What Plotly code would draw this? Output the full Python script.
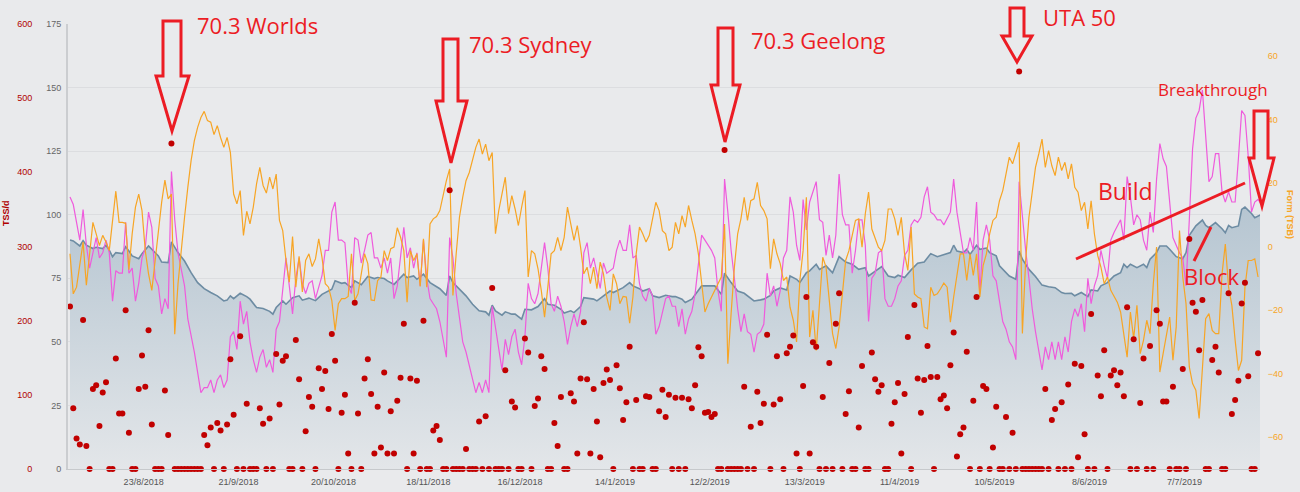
import datetime as dt
import plotly.graph_objects as go

W, H = 1300, 492
START = dt.datetime(2018, 7, 31, 12)

TICK_DATES = ["2018-08-23", "2018-09-21", "2018-10-20", "2018-11-18", "2018-12-16", "2019-01-14",
              "2019-02-12", "2019-03-13", "2019-04-11", "2019-05-10", "2019-06-08", "2019-07-07"]
TICK_TEXT = ["23/8/2018", "21/9/2018", "20/10/2018", "18/11/2018", "16/12/2018", "14/1/2019",
             "12/2/2019", "13/3/2019", "11/4/2019", "10/5/2019", "8/6/2019", "7/7/2019"]

# Daily TSS (one value per day from START)
TSS = [
    219, 82, 41, 33, 201, 31, 0, 108, 113, 58,
    103, 117, 0, 0, 149, 75, 75, 214, 49, 0,
    0, 108, 153, 111, 187, 60, 0, 0, 0, 106,
    46, 439, 0, 0, 0, 0, 0, 0, 0, 0,
    0, 46, 32, 56, 0, 62, 52, 0, 60, 148,
    73, 0, 179, 0, 88, 0, 0, 0, 82, 61,
    0, 68, 0, 155, 87, 146, 152, 0, 0, 174,
    121, 0, 51, 97, 84, 0, 136, 108, 132, 81,
    182, 146, 0, 76, 100, 21, 0, 224, 75, 0,
    122, 148, 101, 21, 84, 29, 130, 21, 78, 21,
    92, 123, 196, 0, 122, 21, 119, 0, 200, 0,
    0, 52, 58, 39, 0, 0, 376, 0, 0, 0,
    0, 27, 0, 0, 0, 64, 0, 71, 0, 244,
    0, 0, 0, 133, 0, 91, 83, 0, 0, 176,
    157, 0, 85, 95, 152, 135, 0, 0, 62, 31,
    97, 0, 0, 102, 91, 21, 122, 198, 121, 21,
    108, 64, 16, 116, 134, 120, 0, 140, 109, 66,
    90, 165, 0, 93, 0, 0, 98, 97, 0, 0,
    78, 107, 70, 100, 0, 96, 0, 96, 0, 94,
    82, 113, 164, 152, 76, 77, 70, 74, 0, 0,
    430, 0, 0, 0, 0, 0, 111, 0, 57, 0,
    104, 62, 88, 181, 0, 87, 152, 94, 0, 156,
    165, 180, 21, 0, 112, 232, 21, 171, 165, 0,
    97, 0, 143, 0, 196, 237, 0, 74, 105, 0,
    0, 56, 139, 0, 0, 157, 121, 104, 113, 0,
    0, 61, 90, 116, 21, 101, 178, 0, 221, 122,
    76, 120, 166, 124, 0, 124, 94, 99, 82, 140,
    184, 17, 47, 56, 158, 0, 92, 232, 0, 112,
    108, 0, 29, 84, 0, 0, 70, 0, 49, 0,
    536, 0, 0, 0, 0, 0, 0, 0, 108, 0,
    66, 81, 0, 90, 0, 114, 0, 142, 16, 139,
    47, 0, 209, 0, 126, 98, 160, 0, 126, 133,
    113, 130, 98, 218, 0, 175, 0, 89, 149, 0,
    166, 0, 214, 196, 91, 91, 0, 111, 0, 0,
    135, 0, 310, 224, 212, 160, 228, 0, 0, 147,
    165, 130, 0, 0, 237, 74, 93, 119, 223, 251,
    125, 0, 0, 156, 120,
]

# Daily Form (TSB)
TSB = [
    -2.3, -14.9, -12.8, -6.0, 1.4, -12.2, -2.3, 7.6, 4.0, 0.3,
    3.5, 1.4, -1.3, 9.2, 17.4, 7.6, 7.6, 7.3, -7.3, 4.0,
    12.4, 16.5, 11.3, -1.3, -8.6, -13.8, -4.4, 6.1, 13.9, 20.9,
    15.0, 16.5, -27.6, -11.7, -0.2, 9.2, 18.6, 27.0, 33.3, 37.5,
    40.6, 42.5, 39.6, 39.1, 35.2, 38.0, 34.3, 31.2, 34.3, 29.6,
    16.5, 13.4, 17.6, 3.5, 11.1, 7.1, 12.4, 19.7, 24.9, 19.2,
    16.8, 21.8, 18.1, 22.8, 8.2, 5.0, -4.4, -11.2, 3.1, -12.8,
    -3.1, -14.3, -4.4, -2.3, -6.3, -3.9, 2.4, -3.4, -11.7, -12.8,
    -17.0, -26.4, -18.0, -16.4, -16.4, -15.7, -2.3, -17.0, -14.9, -8.4,
    -2.3, -5.4, -16.8,
    -17.0, -10.7, -9.6, -1.3, -4.4, -0.7, -0.2,
    5.9, 2.9, -1.3, -17.5, -1.3, -4.4, -2.3, -12.6, 2.4, -12.8,
    7.1, 8.7, 9.4, 11.3, 16.5, 20.7, 24.4, -15.4, -2.3, 9.2,
    15.5, 20.7, 23.3, 27.0, 31.2, 33.8, 29.1, 32.2, 27.0, 29.6,
    4.0, 11.3, 16.5, 21.8, 10.3, 16.0, 11.8, 6.6, 12.4, 17.6,
    -9.6, -1.3, -2.3, -7.0, -13.8, -22.2, -12.8, -2.3, -1.3, 2.9,
    -1.3, 2.9, 12.4, 7.1, 1.9, 6.6, -0.2, -8.6, -6.5, -11.7,
    -6.5, -13.3, -4.9, -8.6, -15.9, -20.1, -8.6, -11.7, -18.0, -15.7,
    -15.9, -24.1, -15.9, -2.3, 6.1, 4.0, 1.4, 3.5, 8.2, 13.9,
    11.3, 5.0, 4.0, -1.3,
    -0.2, 7.6, 4.0, 9.7, 6.1, 12.9, 8.2, 4.0, -2.3, -11.7,
    -20.6, -18.0, -15.9, -13.8, -12.2, -9.6, 7.1, -36.9, -21.1, -6.5,
    4.0, 8.7, 15.5, 8.2, 14.4, 15.0, 20.2, 12.9, 11.3, 8.7,
    -7.0, 2.4, -2.3, -5.4, -10.7, -9.6, -19.1, -23.2, -30.0, -10.7,
    -1.3, 15.5, -28.5, -20.1, -32.7, -18.0, -3.4, -6.5, -18.0, -27.4,
    -32.1, -25.3, -14.9, -4.4, -1.3, 3.5, 8.2, 8.7, -0.2, 10.3,
    17.1, 5.5, 2.9, -0.2, -1.3, 1.9, 11.8, 11.8, 8.7, 3.5,
    9.2, -2.3, -7.5, 6.1, -14.9, -15.9, -16.4, -25.3, -25.9, -12.8,
    -15.4, -14.9, -13.3, -11.5, -12.8, -23.8, -15.9, -8.6, -2.3,
    -2.3, -10.7, -2.3, -9.1, -2.3, -15.9, -6.0, -2.3, 4.0, 8.2,
    9.2, 14.4, 17.6, 23.3, 28.1, 26.0, 29.6, 32.8, -27.4, -4.4,
    9.2, 17.6, 24.9, 29.1, 33.8, 24.9, 30.2, 25.4, 22.3, 28.1,
    23.9, 26.5, 21.3, 26.0, 18.6, 17.1, 11.3, 13.9, 5.5, 14.4,
    4.0, -2.8, -6.5, -11.7, -9.6, -13.8, -15.9, -17.5, -20.6, -28.5,
    -34.8, -20.6, -29.0, -18.5, -33.7, -29.5, -23.2, -27.4, -11.7, -0.2,
    -39.5, -33.7, -27.4, -22.2, -35.8, -25.3, 5.0, -9.6, -18.0, -37.9,
    -43.1, -45.2, -54.1, -39.0, -22.7, -21.1, -26.4, -27.4, -27.4, -8.6,
    0.8, -12.8, -18.5, -29.5, -39.0, -35.8, -12.8, -4.4, -4.4, -3.9, -9.6,
]

# Fitness (CTL): (day, value)
CTL_PTS = [
    (0, 90.1), (1, 89.7), (3, 87.7), (4, 89.8), (5, 88.0), (7, 86.7), (8, 87.2), (10, 86.7), (11, 88.0),
    (12, 86.1), (13, 83.5), (14, 85.1), (16, 84.7), (17, 87.4), (18, 85.7), (19, 83.8), (21, 82.7),
    (22, 84.7), (24, 87.7), (25, 86.4), (27, 83.8), (28, 81.4), (30, 81.2), (31, 89.3), (33, 85.1),
    (35, 81.8), (37, 77.2), (39, 73.3), (41, 70.9), (43, 69.4), (45, 68.1), (47, 66.1), (48, 66.4),
    (49, 68.1), (50, 67.0), (52, 69.1), (54, 67.8), (55, 66.8), (57, 63.5), (59, 63.1), (61, 62.0),
    (62, 60.9), (63, 63.5), (65, 66.1), (66, 64.8), (68, 67.4), (70, 68.1), (71, 66.4), (73, 67.2),
    (75, 66.2), (77, 68.7), (80, 70.7), (81, 74.0), (83, 73.0), (84, 73.3), (86, 71.3), (87, 74.0),
    (89, 72.5), (91, 75.7), (93, 74.9), (94, 75.3), (96, 74.9), (97, 74.0), (99, 72.6), (100, 74.0),
    (102, 76.6), (103, 75.3), (105, 75.9), (106, 74.6), (108, 76.6), (110, 73.3), (111, 72.6),
    (113, 70.9), (115, 68.3), (116, 75.9), (117, 73.3), (119, 70.7), (121, 68.1), (123, 64.8),
    (125, 62.2), (127, 61.8), (128, 60.5), (129, 64.4), (130, 62.2), (132, 60.5), (133, 61.8),
    (135, 60.9), (136, 60.9), (138, 58.9), (139, 62.8), (141, 62.6), (143, 63.9), (145, 67.0),
    (146, 64.8), (148, 64.4), (150, 62.8), (151, 61.3), (153, 62.2), (154, 61.5), (156, 63.9),
    (157, 67.4), (160, 66.8), (161, 66.1), (163, 68.1), (165, 70.0), (166, 69.4), (168, 70.7),
    (169, 71.3), (171, 73.3), (172, 72.0), (174, 70.9), (175, 70.0), (177, 70.9), (178, 68.1),
    (180, 67.4), (182, 68.3), (184, 67.8), (185, 67.8), (187, 66.8), (188, 65.5), (190, 66.8),
    (191, 68.7), (193, 72.0), (195, 72.0), (197, 72.0), (199, 68.7), (200, 77.0), (202, 73.3),
    (204, 70.0), (206, 69.1), (207, 68.1), (209, 66.1), (211, 66.5), (212, 66.8), (214, 68.3),
    (215, 70.0), (217, 71.2), (219, 70.4), (220, 75.9), (222, 74.6), (223, 73.3), (225, 77.2),
    (226, 77.9), (228, 80.5), (229, 78.5), (231, 79.9), (233, 77.2), (235, 83.5), (237, 81.4),
    (239, 80.5), (241, 78.5), (243, 79.2), (244, 75.9), (246, 77.9), (248, 79.6), (250, 75.9),
    (252, 75.3), (253, 76.2), (255, 75.3), (257, 78.3), (259, 80.9), (261, 81.4), (263, 84.7),
    (265, 83.5), (267, 84.4), (269, 85.1), (270, 88.0), (271, 85.7), (273, 85.1), (274, 86.4),
    (275, 84.4), (277, 88.0), (278, 86.4), (280, 86.9), (281, 85.1), (283, 83.8), (284, 79.9),
    (286, 77.5), (287, 75.9), (289, 74.6), (290, 85.7), (291, 82.5), (293, 78.5), (295, 75.7),
    (297, 72.3), (299, 71.7), (301, 71.3), (303, 69.4), (304, 69.0), (306, 69.1), (307, 68.1),
    (309, 69.4), (311, 67.8), (312, 70.4), (314, 70.0), (315, 72.0), (317, 73.3), (319, 75.9),
    (321, 77.2), (322, 80.5), (323, 79.2), (324, 80.5), (326, 79.2), (328, 80.5), (329, 79.2),
    (330, 82.5), (332, 85.1), (333, 87.7), (335, 87.7), (336, 86.4), (338, 83.5), (340, 82.7),
    (341, 85.1), (342, 91.9), (344, 95.6), (346, 97.9), (347, 95.8), (348, 94.9), (350, 96.9),
    (352, 94.5), (353, 92.9), (354, 95.8), (355, 94.9), (357, 95.6), (358, 102.1), (359, 103.0),
    (361, 100.5), (362, 98.8), (363, 99.5), (364, 100.1),
]

# Fatigue (ATL): (day, value)
ATL_PTS = [
    (0, 107), (1, 104), (3, 90), (4, 102), (5, 88), (6, 79), (7, 85), (8, 91), (9, 83), (10, 85), (11, 90),
    (12, 85), (13, 66), (14, 78), (15, 77), (16, 77), (17, 97), (18, 77), (19, 79), (20, 66), (21, 73),
    (22, 83), (23, 87), (24, 101), (25, 95), (26, 75), (27, 72), (28, 61), (29, 67), (30, 63), (31, 117),
    (32, 98), (33, 85), (35, 72), (36, 59), (38, 46), (40, 30), (41, 32), (42, 32), (43, 35), (44, 30),
    (45, 35), (46, 37), (47, 32), (48, 35), (49, 52), (50, 54), (51, 47), (52, 66), (53, 57), (54, 62),
    (55, 50), (56, 43), (57, 38), (58, 44), (59, 47), (60, 40), (61, 43), (62, 38), (63, 55), (64, 58),
    (65, 71), (66, 83), (67, 72), (68, 61), (69, 75), (70, 83), (71, 73), (72, 69), (73, 73), (74, 74),
    (75, 67), (76, 72), (77, 76), (78, 86), (79, 86), (80, 101), (81, 105), (82, 90), (83, 90), (84, 89),
    (85, 72), (86, 69), (87, 91), (88, 90), (89, 81), (90, 86), (91, 92), (92, 93), (93, 83), (94, 83),
    (95, 79), (96, 83), (97, 77), (98, 83), (99, 67), (100, 72), (101, 83), (102, 95), (103, 83),
    (104, 87), (105, 79), (106, 85), (107, 72), (108, 90), (109, 75), (110, 67), (111, 65), (112, 63),
    (113, 58), (114, 51), (115, 44), (116, 91), (117, 83), (118, 69), (119, 59), (120, 50), (121, 46),
    (122, 41), (123, 35), (124, 30), (125, 34), (126, 30), (127, 35), (128, 30), (129, 64), (130, 56),
    (131, 48), (132, 39), (133, 51), (134, 45), (135, 52), (136, 55), (137, 46), (138, 41), (139, 52),
    (140, 73), (141, 67), (142, 65), (143, 69), (144, 80), (145, 89), (146, 79), (147, 65), (148, 62),
    (149, 68), (150, 64), (151, 58), (152, 49), (153, 56), (154, 61), (155, 56), (156, 62), (157, 85),
    (158, 89), (159, 79), (160, 83), (161, 77), (162, 71), (163, 81), (164, 77), (166, 79), (167, 86),
    (168, 90), (169, 86), (170, 86), (171, 96), (172, 83), (173, 84), (174, 73), (175, 68), (176, 66),
    (177, 71), (178, 68), (179, 53), (180, 56), (181, 62), (182, 67), (183, 68), (184, 64), (185, 64),
    (186, 56), (187, 63), (188, 53), (189, 59), (190, 62), (191, 69), (192, 80), (193, 92), (194, 90),
    (195, 88), (196, 86), (197, 83), (198, 70), (199, 62), (200, 114), (201, 101), (202, 86), (203, 75),
    (204, 63), (205, 54), (206, 61), (207, 54), (208, 53), (209, 46), (210, 53), (211, 54), (212, 57),
    (213, 77), (214, 68), (215, 72), (216, 64), (217, 70), (218, 83), (219, 86), (220, 107), (221, 101),
    (222, 88), (223, 82), (224, 106), (225, 94), (226, 105), (228, 113), (229, 98), (230, 97), (231, 84),
    (232, 92), (233, 83), (234, 92), (235, 116), (236, 100), (237, 96), (238, 96), (239, 77), (240, 86),
    (241, 98), (242, 98), (243, 88), (244, 58), (245, 75), (246, 77), (247, 85), (248, 86), (249, 67),
    (250, 64), (251, 64), (252, 67), (253, 72), (254, 74), (255, 84), (256, 86), (257, 96), (258, 98),
    (259, 97), (260, 99), (261, 107), (262, 111), (263, 101), (264, 100), (265, 98), (266, 98),
    (267, 96), (269, 101), (270, 114), (271, 101), (272, 93), (273, 85), (274, 85), (275, 91), (276, 86),
    (277, 105), (278, 69), (279, 90), (280, 96), (281, 90), (282, 76), (283, 74), (284, 66), (285, 58),
    (286, 55), (287, 50), (288, 48), (289, 43), (290, 113), (291, 98), (292, 86), (293, 75), (294, 63),
    (295, 54), (296, 46), (297, 39), (298, 48), (299, 43), (300, 50), (301, 43), (302, 50), (303, 43),
    (304, 52), (305, 46), (306, 58), (307, 63), (308, 60), (309, 65), (310, 54), (311, 75), (312, 65),
    (313, 72), (314, 76), (315, 86), (316, 80), (317, 75), (318, 90), (319, 93), (321, 98), (322, 90),
    (323, 115), (324, 107), (325, 96), (326, 100), (327, 98), (328, 90), (329, 86), (330, 101), (331, 93),
    (332, 114), (333, 128), (334, 122), (335, 119), (336, 104), (337, 91), (338, 88), (339, 85), (340, 83),
    (341, 72), (342, 98), (343, 126), (344, 138), (345, 141), (346, 149), (347, 132), (348, 113),
    (349, 115), (350, 124), (351, 124), (352, 109), (353, 105), (354, 109), (355, 105), (356, 105),
    (357, 122), (358, 141), (359, 139), (360, 123), (361, 101), (362, 105), (363, 106), (364, 104),
]

RED = "#ec1c24"
ORANGE = "#f7a525"


def day(d):
    return START + dt.timedelta(days=d)


def P(x, y):
    return x / W, 1 - y / H


fig = go.Figure()

fig.add_trace(go.Scatter(
    x=[day(d) for d, _ in CTL_PTS], y=[v for _, v in CTL_PTS], name="Fitness (CTL)",
    mode="lines", line=dict(color="#6d8ca3", width=1.6), fill="tozeroy",
    fillgradient=dict(type="vertical", start=0, stop=105,
                      colorscale=[[0, "#e3e6e9"], [1, "#b5c5d1"]]),
    yaxis="y"))
fig.add_trace(go.Scatter(
    x=[day(d) for d, _ in ATL_PTS], y=[v for _, v in ATL_PTS], name="Fatigue (ATL)",
    mode="lines", line=dict(color="#ef5bdc", width=1.2), yaxis="y"))
fig.add_trace(go.Scatter(
    x=[day(i) for i in range(len(TSB))], y=TSB, name="Form (TSB)",
    mode="lines", line=dict(color=ORANGE, width=1.2), yaxis="y2"))
fig.add_trace(go.Scatter(
    x=[day(i) for i in range(len(TSS))], y=TSS, name="TSS/d",
    mode="markers", marker=dict(color="#c10000", size=6), cliponaxis=False, yaxis="y3"))

tick_font = dict(family="Liberation Sans, Arial", size=9)
fig.update_layout(
    width=W, height=H, autosize=False,
    margin=dict(l=0, r=0, t=0, b=0, pad=0, autoexpand=False),
    paper_bgcolor="#e9eaec", plot_bgcolor="#e9eaec", showlegend=False,
    xaxis=dict(domain=[68 / W, 1260 / W], type="date", range=[day(-0.61), day(363.6)],
               tickvals=TICK_DATES, ticktext=TICK_TEXT, showgrid=False, zeroline=False,
               showline=True, linecolor="#c6c9cc", linewidth=1, automargin=False,
               ticks="outside", ticklen=4, tickcolor="rgba(0,0,0,0)",
               tickfont=dict(tick_font, color="#555555")),
    yaxis=dict(domain=[1 - 469 / H, 1 - 24 / H], range=[0, 175], tickvals=list(range(0, 176, 25)),
               showgrid=True, gridcolor="#dcdde0", gridwidth=1, zeroline=False, automargin=False,
               showline=True, linecolor="#cbcdd0", linewidth=2,
               ticks="outside", ticklen=3, tickcolor="rgba(0,0,0,0)",
               tickfont=dict(tick_font, color="#666666")),
    yaxis2=dict(overlaying="y", side="right", anchor="x", range=[-70, 70], automargin=False,
                tickvals=[-60, -40, -20, 0, 20, 40, 60], showgrid=False, zeroline=False,
                showline=False, ticks="outside", ticklen=5, tickcolor="rgba(0,0,0,0)",
                tickfont=dict(tick_font, color=ORANGE)),
    yaxis3=dict(overlaying="y", side="left", anchor="free", position=36 / W, range=[0, 600],
                tickvals=list(range(0, 601, 100)), showgrid=False, zeroline=False, automargin=False,
                showline=False, ticks="outside", ticklen=2, tickcolor="rgba(0,0,0,0)",
                tickfont=dict(tick_font, color="#b00000")),
)

# axis titles
fig.add_annotation(x=P(6, 213)[0], y=P(6, 213)[1], xref="paper", yref="paper", text="<b>TSS/d</b>",
                   textangle=-90, showarrow=False, xanchor="center", yanchor="middle",
                   font=dict(family="Liberation Sans, Arial", size=9, color="#b00000"))
fig.add_annotation(x=P(1290, 214)[0], y=P(1290, 214)[1], xref="paper", yref="paper",
                   text="<b>Form (TSB)</b>", textangle=90, showarrow=False,
                   xanchor="center", yanchor="middle",
                   font=dict(family="Liberation Sans, Arial", size=9, color=ORANGE))

# hollow arrows (pixel geometry): shaft left, shaft right, top, neck, head left, head right, tip x, tip y
ARROWS = [
    (163, 181, 21, 76, 156, 189, 172, 131),
    (443, 458, 39, 101, 436, 467, 451, 163),
    (718, 733, 28, 85, 711, 740, 725, 142),
    (1010, 1024, 8, 36, 1002, 1032, 1017, 62),
    (1254, 1268, 111, 158, 1249, 1274, 1262, 206),
]
for xl, xr, top, neck, hl, hr, tx, ty in ARROWS:
    pts = [(xl, top), (xr, top), (xr, neck), (hr, neck), (tx, ty), (hl, neck), (xl, neck)]
    path = "M " + " L ".join("%.5f,%.5f" % P(x, y) for x, y in pts) + " Z"
    fig.add_shape(type="path", path=path, xref="paper", yref="paper",
                  line=dict(color=RED, width=3), fillcolor="rgba(0,0,0,0)")

LABELS = [
    ("70.3 Worlds", 195, 25, 22),
    ("70.3 Sydney", 467, 44, 22),
    ("70.3 Geelong", 749, 40, 22),
    ("UTA 50", 1041, 17, 22),
    ("Breakthrough", 1156, 90, 17),
    ("Build", 1096, 191, 23),
    ("Block", 1182, 276, 22),
]
for text, x, y, size in LABELS:
    px, py = P(x, y)
    fig.add_annotation(x=px, y=py, xref="paper", yref="paper", text=text, showarrow=False,
                       xanchor="left", yanchor="middle",
                       font=dict(family="Open Sans", size=size, color=RED))

for (x0, y0), (x1, y1) in [((1076, 259), (1245, 183)), ((1194, 261), (1211, 227))]:
    a, b = P(x0, y0)
    c, d = P(x1, y1)
    fig.add_shape(type="line", x0=a, y0=b, x1=c, y1=d, xref="paper", yref="paper",
                  line=dict(color=RED, width=3))

fig.write_html("out.html")
